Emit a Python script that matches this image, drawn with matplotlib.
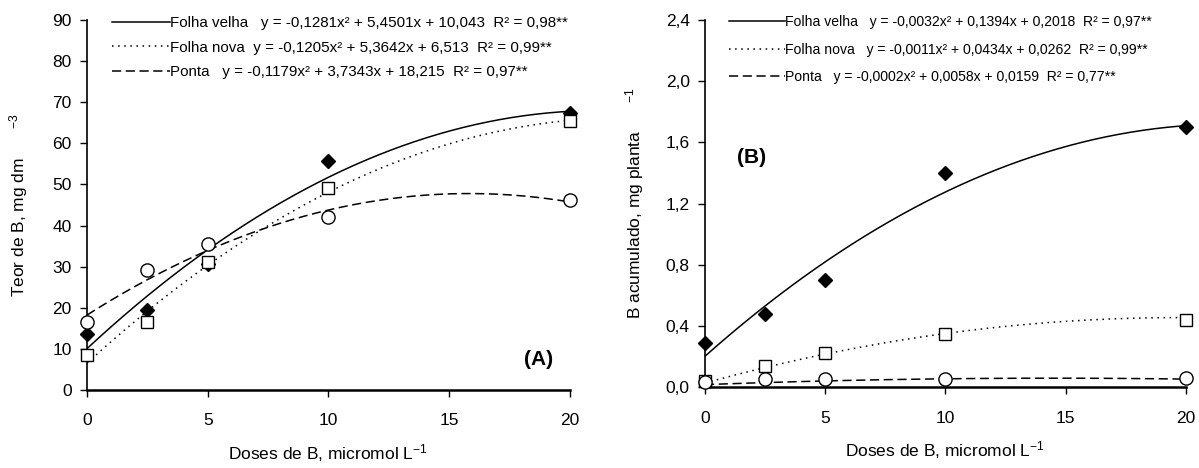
import numpy as np
import matplotlib
matplotlib.use('Agg')
import matplotlib.pyplot as plt
from matplotlib.lines import Line2D
from matplotlib.ticker import FuncFormatter

plt.rcParams['font.family'] = ['Liberation Sans', 'DejaVu Sans']
plt.rcParams['mathtext.fontset'] = 'custom'
plt.rcParams['mathtext.rm'] = 'Liberation Sans'
plt.rcParams['mathtext.it'] = 'Liberation Sans'

# doses de B (micromol/L)
doses = [0, 2.5, 5, 10, 20]

# painel A - teor de B (mg/dm3)
teor_velha = [13.5, 19.4, 30.6, 55.6, 67.3]
teor_nova = [8.5, 16.5, 31.2, 49.2, 65.5]
teor_ponta = [16.5, 29.2, 35.5, 42.0, 46.3]
coef_teor_velha = [-0.1281, 5.4501, 10.043]
coef_teor_nova = [-0.1205, 5.3642, 6.513]
coef_teor_ponta = [-0.1179, 3.7343, 18.215]
leg_teor = ['Folha velha   y = -0,1281x² + 5,4501x + 10,043  R² = 0,98**',
            'Folha nova  y = -0,1205x² + 5,3642x + 6,513  R² = 0,99**',
            'Ponta   y = -0,1179x² + 3,7343x + 18,215  R² = 0,97**']

# painel B - B acumulado (mg/planta)
acum_velha = [0.29, 0.48, 0.70, 1.40, 1.70]
acum_nova = [0.04, 0.14, 0.22, 0.35, 0.44]
acum_ponta = [0.03, 0.05, 0.05, 0.05, 0.06]
coef_acum_velha = [-0.0032, 0.1394, 0.2018]
coef_acum_nova = [-0.0011, 0.0434, 0.0262]
coef_acum_ponta = [-0.0002, 0.0058, 0.0159]
leg_acum = ['Folha velha   y = -0,0032x² + 0,1394x + 0,2018  R² = 0,97**',
            'Folha nova   y = -0,0011x² + 0,0434x + 0,0262  R² = 0,99**',
            'Ponta   y = -0,0002x² + 0,0058x + 0,0159  R² = 0,77**']

styles = ['-', (0, (1, 3)), (0, (6, 3))]
markers = [dict(marker='D', mfc='black', mec='black', ms=7.5),
           dict(marker='s', mfc='white', mec='black', ms=9, mew=1),
           dict(marker='o', mfc='white', mec='black', ms=9.5, mew=1)]


def painel(ax, ys, coefs, labels, fs, anchor, hl, sp):
    xx = np.linspace(0, 20, 200)
    handles = []
    for y, c, ls, mk in zip(ys, coefs, styles, markers):
        ax.plot(xx, np.polyval(c, xx), color='black', lw=1.1, ls=ls, zorder=2)
        ax.plot(doses, y, ls='none', clip_on=False, zorder=3, **mk)
        handles.append(Line2D([], [], color='black', lw=1.1, ls=ls))
    ax.legend(handles, labels, loc='upper left', bbox_to_anchor=anchor,
              frameon=False, fontsize=fs, handlelength=hl, handletextpad=0.0,
              labelspacing=sp, borderaxespad=0.3)
    ax.set_xlim(0, 20)
    ax.set_xticks([0, 5, 10, 15, 20])
    for s in ['top', 'right']:
        ax.spines[s].set_visible(False)
    ax.spines['left'].set_linewidth(1.2)
    ax.spines['bottom'].set_linewidth(1.8)
    ax.tick_params(direction='out', length=5, width=1, labelsize=12.5, pad=6)
    ax.tick_params(axis='x', pad=12)
    ax.set_xlabel('Doses de B, micromol L$^{-1}$', fontsize=12.5, labelpad=10)


fig = plt.figure(figsize=(11.99, 4.68), dpi=100)
axA = fig.add_axes([0.0726, 0.167, 0.4025, 0.79])
axB = fig.add_axes([0.588, 0.173, 0.401, 0.784])

painel(axA, [teor_velha, teor_nova, teor_ponta],
       [coef_teor_velha, coef_teor_nova, coef_teor_ponta], leg_teor,
       10.9, (0.03, 1.04), 3.8, 0.7)
axA.set_ylim(0, 90)
axA.set_yticks(range(0, 91, 10))
axA.set_ylabel('Teor de B, mg dm      $^{-3}$', fontsize=12.5, labelpad=16)
axA.text(18.7, 7.5, '(A)', fontsize=15, fontweight='bold', ha='center', va='center')

painel(axB, [acum_velha, acum_nova, acum_ponta],
       [coef_acum_velha, coef_acum_nova, coef_acum_ponta], leg_acum,
       10.1, (0.03, 1.04), 4.0, 0.95)
axB.set_ylim(0, 2.4)
axB.set_yticks([0, 0.4, 0.8, 1.2, 1.6, 2.0, 2.4])
axB.yaxis.set_major_formatter(FuncFormatter(lambda v, p: f'{v:.1f}'.replace('.', ',')))
axB.set_ylabel('B acumulado, mg planta      $^{-1}$', fontsize=12.5, labelpad=14)
axB.text(1.95, 1.5, '(B)', fontsize=15, fontweight='bold', ha='center', va='center')

fig.savefig('out.png', dpi=100)
